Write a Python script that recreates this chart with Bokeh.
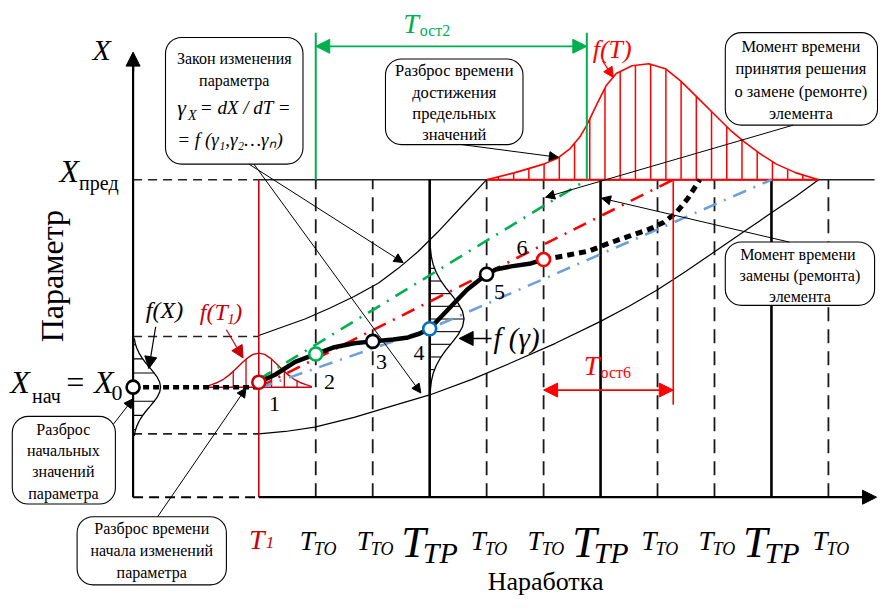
import numpy as np
from bokeh.plotting import figure
from bokeh.models import Range1d, Label, Arrow, NormalHead, BoxAnnotation
from bokeh.embed import file_html
from bokeh.resources import INLINE

SERIF = "Liberation Serif"
DARKRED = "#c8000a"
RED = "#ff0000"
GREEN = "#00b050"
BLUE = "#6f9fd8"
BLUE_DARK = "#0070c0"

# ---------------- schematic data (t = наработка, X = параметр) ----------------
T1 = 128
tick_t = [186, 244, 302, 360, 418, 476, 534, 592, 650, 708]
tick_kind = ["TO", "TO", "TP", "TO", "TO", "TP", "TO", "TO", "TP", "TO"]
t_axis_end = 757
X_axis_end = 457
X0 = 113
X_lim = 326
X_spread = [65, 165]

point_t = [128, 186, 244, 302, 360, 418]
point_X = [118, 147, 160, 173, 229, 244]
point_names = ["1", "2", "3", "4", "5", "6"]
point_colors = [DARKRED, GREEN, "black", BLUE_DARK, "black", RED]
point_label_t = [144, 200, 253, 291, 373, 396]
point_label_X = [96, 118, 139, 148, 211, 256]

path_t = [128, 145, 165, 186, 205, 225, 244, 265, 280, 292, 302, 320, 340, 360, 370, 385, 405, 418]
path_X = [118, 126, 139, 147, 154, 158, 160, 162, 164, 168, 173, 192, 213, 229, 234, 237, 240, 244]
fore_t = [418, 440, 465, 485, 505, 525, 540, 553, 565, 577]
fore_X = [244, 248, 253, 261, 268, 275, 282, 292, 307, 326]

green_t = [128, 462]
green_X = [121, 326]
red_t = [128, 550]
red_X = [113, 326]
blue_t = [128, 302, 650]
blue_X = [112, 173, 326]

upper_t = [128, 150, 175, 200, 225, 250, 270, 290, 310, 335, 360]
upper_X = [166, 174, 183, 194, 206, 220, 235, 252, 272, 299, 326]
lower_t = [128, 155, 185, 225, 265, 302, 345, 385, 430, 475, 505, 534, 563, 592, 621, 650, 675, 698]
lower_X = [65, 67.5, 72, 82, 94, 105, 121, 138, 158, 180, 196, 213, 232, 252, 272, 292, 309, 326]

# distributions
fX_off = [-50, -45, -40, -35, -30, -25, -20, -15, -10, -5, 0, 5, 10, 15, 20, 25, 30, 35, 40, 45, 50]
fX_w = [1.2, 2.2, 3.8, 6.1, 9.1, 12.8, 17, 21.1, 24.7, 27.1, 28, 27.1, 24.7, 21.1, 17, 12.8, 9.1, 6.1, 3.8, 2.2, 1.2]
fT1_off = [-54, -48, -42, -36, -30, -24, -18, -12, -6, 0, 6, 12, 18, 24, 30, 36, 42, 48, 54]
fT1_h = [0.5, 2.6, 4.8, 8.1, 12.6, 18.1, 24.1, 29.6, 33.6, 35, 33.6, 29.6, 24.1, 18.1, 12.6, 8.1, 4.8, 2.6, 0.5]
fg_center = 183
fg_off = [-80, -72, -64, -56, -48, -40, -32, -24, -16, -8, 0, 8, 16, 24, 32, 40, 48, 56, 64, 72, 80]
fg_w = [0.3, 0.8, 1.7, 3.5, 6.6, 10.9, 16.5, 22.9, 29.0, 33.4, 35, 33.4, 29.0, 22.9, 16.5, 10.9, 6.6, 3.5, 1.7, 0.8, 0.3]
fT_t = [360, 388, 418, 432, 445, 455, 462, 472, 482, 492, 508, 525, 542, 558, 575, 592, 608, 622, 638, 655, 675, 698]
fT_h = [0, 7, 16, 22, 32, 44, 56, 77, 97, 109, 117, 119, 114, 101, 84, 67, 51, 39, 27, 16, 7, 0]

T_ost2 = [186, 462]
T_ost6 = [418, 550]

# ---------------- figure ----------------
p = figure(width=878, height=598, x_range=Range1d(-135, 759), y_range=Range1d(-104, 510),
           output_backend="svg", toolbar_location=None, min_border=0,
           x_axis_location=None, y_axis_location=None, outline_line_color=None)
p.xgrid.visible = False
p.ygrid.visible = False
p.background_fill_color = "white"
p.border_fill_color = "white"

TO_t = [t for t, k in zip(tick_t, tick_kind) if k == "TO"]
TP_t = [t for t, k in zip(tick_t, tick_kind) if k == "TP"]

# reference horizontals
p.segment(x0=[0, 0, 0], y0=[X_lim, X_spread[1], X_spread[0]], x1=[T1] * 3, y1=[X_lim, X_spread[1], X_spread[0]],
          line_color="#222222", line_width=1.6, line_dash="9 6")
p.segment(x0=[T1], y0=[X_lim], x1=[t_axis_end - 2], y1=[X_lim], line_color="#222222", line_width=1.6)
p.segment(x0=[0], y0=[0], x1=[T1], y1=[0], line_color="black", line_width=2, line_dash="10 6")

# verticals
p.segment(x0=TO_t, y0=[0] * len(TO_t), x1=TO_t, y1=[X_lim] * len(TO_t),
          line_color="#1a1a1a", line_width=1.8, line_dash="14 8")
p.segment(x0=TP_t, y0=[0] * len(TP_t), x1=TP_t, y1=[X_lim] * len(TP_t),
          line_color="black", line_width=2.6)

# envelopes
p.line(upper_t, upper_X, line_color="black", line_width=1.2)
p.line(lower_t, lower_X, line_color="black", line_width=1.2)

# f(T) big distribution
fT_x = np.array(fT_t, dtype=float)
fT_y = X_lim + np.array(fT_h, dtype=float)
hatch_T = np.arange(372, 690, 15.5)
hatch_h = np.interp(hatch_T, fT_t, fT_h)
p.segment(x0=hatch_T, y0=[X_lim] * len(hatch_T), x1=hatch_T, y1=X_lim + hatch_h, line_color=RED, line_width=1.5)
p.line(fT_x, fT_y, line_color=RED, line_width=1.6)
p.segment(x0=[fT_t[0]], y0=[X_lim], x1=[fT_t[-1]], y1=[X_lim], line_color=RED, line_width=2)

# f(T1)
hatch_T1 = [T1 - 26, T1 - 13, T1 + 13, T1 + 26, T1 + 39]
hatch_T1h = np.interp(hatch_T1, [T1 + o for o in fT1_off], fT1_h)
p.segment(x0=[T1 + fT1_off[0]], y0=[X0], x1=[T1 + fT1_off[-1]], y1=[X0], line_color=DARKRED, line_width=1.5)
p.segment(x0=hatch_T1, y0=[X0] * 5, x1=hatch_T1, y1=X0 + hatch_T1h, line_color=DARKRED, line_width=1.3)
p.line([T1 + o for o in fT1_off], [X0 + h for h in fT1_h], line_color=DARKRED, line_width=1.4)

# f(X)
hatch_X = [X0 + k * 14.5 for k in (-3, -2, -1, 1, 2, 3)]
hatch_Xw = np.interp(hatch_X, [X0 + o for o in fX_off], fX_w)
p.segment(x0=[0] * 6, y0=hatch_X, x1=hatch_Xw, y1=hatch_X, line_color="black", line_width=1.1)
p.line(fX_w, [X0 + o for o in fX_off], line_color="black", line_width=1.3)

# f(gamma)
hatch_g = [fg_center + 13 * k for k in range(-5, 6)]
hatch_gw = np.interp(hatch_g, [fg_center + o for o in fg_off], fg_w)
p.segment(x0=[302] * len(hatch_g), y0=hatch_g, x1=302 + hatch_gw, y1=hatch_g, line_color="black", line_width=1.1)
p.line([302 + w for w in fg_w], [fg_center + o for o in fg_off], line_color="black", line_width=1.3)

# trend (forecast) lines
p.line(green_t, green_X, line_color=GREEN, line_width=2.6, line_dash="14 8 2 8")
p.line(red_t, red_X, line_color=RED, line_width=2.6, line_dash="14 8 2 8")
p.line(blue_t, blue_X, line_color=BLUE, line_width=2.6, line_dash="14 8 2 8")

# trajectory
p.line([0, T1], [X0, X0], line_color="black", line_width=4.5, line_dash="6 4")
p.line(path_t, path_X, line_color="black", line_width=4.5)
p.line(fore_t, fore_X, line_color="black", line_width=5, line_dash="7 5")

# special verticals
p.segment(x0=[T1], y0=[0], x1=[T1], y1=[X_lim], line_color=DARKRED, line_width=1.6)
p.segment(x0=T_ost2, y0=[X_lim, X_lim], x1=T_ost2, y1=[477, 477], line_color=GREEN, line_width=2)
p.segment(x0=[T_ost6[1]], y0=[X_lim], x1=[T_ost6[1]], y1=[95], line_color=RED, line_width=1.6)

# axis y
p.segment(x0=[0], y0=[0], x1=[0], y1=[X_axis_end - 10], line_color="black", line_width=2.2)

# points
p.scatter([0], [X0], size=13, marker="circle", fill_color="white", line_color="black", line_width=2.6)
p.scatter(point_t, point_X, size=13, marker="circle", fill_color="white", line_color=point_colors, line_width=2.6)


def lab(x, y, text, size, color="black", style="normal", align="center", baseline="middle", angle=0.0):
    p.add_layout(Label(x=x, y=y, text=text, text_font=SERIF, text_font_size=f"{size}px",
                       text_color=color, text_font_style=style, text_align=align,
                       text_baseline=baseline, angle=angle))


def arrow(x0, y0, x1, y1, color="black", size=9, width=1.0, both=False):
    head = lambda: NormalHead(size=size, fill_color=color, line_color=color, line_width=1)
    p.add_layout(Arrow(end=head(), start=head() if both else None, x_start=x0, y_start=y0,
                       x_end=x1, y_end=y1, line_color=color, line_width=width))


# axes arrows
arrow(0, X_axis_end - 20, 0, X_axis_end, size=14, width=2.2)
arrow(T1, 0, t_axis_end, 0, size=14, width=2.2)

# callout boxes
boxes = [(33, 173, 342, 472), (257, 397, 362, 450), (603, 758, 382, 477),
         (603, 755, 197, 262), (-123, -18, -7, 83), (-57, 95, -90, -20)]
for l, r, b, t in boxes:
    p.add_layout(BoxAnnotation(left=l, right=r, bottom=b, top=t, border_radius=16,
                               fill_color="white", fill_alpha=1.0, line_color="black",
                               line_width=1.1, line_alpha=1.0))

# box texts
lab(103, 450, "Закон изменения", 16)
lab(103, 428, "параметра", 16)
lab(45, 400, "γ", 22, style="italic", align="left")
lab(56, 392, "X", 14, style="italic", align="left")
lab(68, 400, "= dX / dT =", 19, style="italic", align="left")
lab(45, 367, "= f (γ₁,γ₂…γₙ)", 19, style="italic", align="left")

for i, s in enumerate(["Разброс времени", "достижения", "предельных", "значений"]):
    lab(327, 438 - 22 * i, s, 16.5)
for i, s in enumerate(["Момент времени", "принятия решения", "о замене (ремонте)", "элемента"]):
    lab(680, 463 - 23 * i, s, 16.5)
for i, s in enumerate(["Момент  времени", "замены (ремонта)", "элемента"]):
    lab(679, 249 - 21.5 * i, s, 16)
for i, s in enumerate(["Разброс", "начальных", "значений", "параметра"]):
    lab(-71, 70 - 22 * i, s, 16)
for i, s in enumerate(["Разброс времени", "начала изменений", "параметра"]):
    lab(19, -32 - 22.5 * i, s, 16)

# leader arrows
arrow(118, 342, 275, 241)
arrow(123, 342, 293, 107)
arrow(335, 362, 433, 349)
arrow(672, 382, 420, 308)
arrow(668, 262, 477, 307)
arrow(-20, 75, 0, 101)
arrow(25, -20, 115, 112)
arrow(23, 175, 16, 132, size=12, width=1.2)
arrow(95, 172, 112, 143, color=DARKRED, size=12, width=1.2)
arrow(478, 448, 489, 431, color=RED, size=10, width=1.2)
arrow(365, 163, 332, 163, size=14, width=1.4)
arrow(T_ost2[0], 463, T_ost2[1], 463, color=GREEN, size=14, width=1.8, both=True)
arrow(T_ost6[0], 110, T_ost6[1], 110, color=RED, size=14, width=1.8, both=True)

# axis texts
lab(-32, 460, "X", 30, style="italic")
lab(-83, 227, "Параметр", 32, angle=np.pi / 2)
lab(420, -87, "Наработка", 26)
lab(-75, 335, "X", 32, style="italic", align="left")
lab(-55, 323, "пред", 20, align="left")
lab(-125, 118, "X", 32, style="italic", align="left")
lab(-103, 104, "нач", 20, align="left")
lab(-70, 118, "= X", 32, style="italic", align="left")
lab(-22, 107, "0", 22, align="left")

# tick labels
lab(118, -43, "T", 28, color=DARKRED, style="italic", align="left", baseline="alphabetic")
lab(135, -47, "1", 17, color=DARKRED, style="italic", align="left", baseline="alphabetic")
for t, k in zip(tick_t, tick_kind):
    if k == "TO":
        lab(t - 1, -45, "T", 27, style="italic", align="right", baseline="alphabetic")
        lab(t - 2, -53, "TO", 18, style="italic", align="left", baseline="alphabetic")
    else:
        lab(t - 4, -47, "T", 44, style="italic", align="right", baseline="alphabetic")
        lab(t - 7, -57, "TP", 30, style="italic", align="left", baseline="alphabetic")

# point labels
for tt, xx, s in zip(point_label_t, point_label_X, point_names):
    lab(tt, xx, s, 22)

# distribution labels
lab(32, 192, "f(X)", 24, style="italic")
lab(68, 190, "f(T", 24, color=DARKRED, style="italic", align="left")
lab(96, 183, "1", 15, color=DARKRED, style="italic", align="left")
lab(103, 190, ")", 24, color=DARKRED, style="italic", align="left")
lab(367, 163, "f (γ)", 29, style="italic", align="left")
lab(468, 460, "f(T)", 26, color=RED, style="italic", align="left")

lab(275, 486, "T", 28, color=GREEN, style="italic", align="left")
lab(292, 479, "ост2", 16, color=GREEN, align="left")
lab(459, 135, "T", 28, color=RED, style="italic", align="left")
lab(476, 128, "ост6", 16, color=RED, align="left")

open("out.html", "w").write(file_html(p, INLINE))
